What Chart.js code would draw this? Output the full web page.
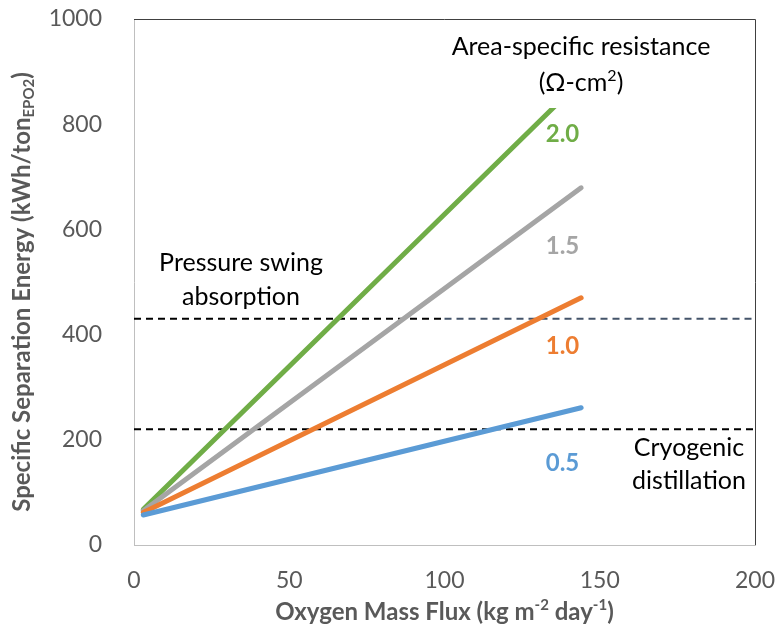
<!DOCTYPE html>
<html>
<head>
<meta charset="utf-8">
<script src="https://cdn.jsdelivr.net/npm/chart.js@4.4.1/dist/chart.umd.min.js"></script>
<style>
  html, body { margin: 0; padding: 0; background: #fff; }
  #wrap { width: 782px; height: 633px; }
</style>
</head>
<body>
<div id="wrap"><canvas id="sepChart" width="782" height="633"></canvas></div>
<script>
// oxygen mass flux (kg m-2 day-1) at the two ends of each line
const flux = [3, 144];

// specific separation energy (kWh/ton) per area-specific resistance
const asrLabels = ['0.5', '1.0', '1.5', '2.0'];
const energy05 = [57, 261];
const energy10 = [62, 470];
const energy15 = [65, 679];
const energy20 = [68, 883];

// reference technologies (horizontal dashed lines)
const psaLevel = 430;
const cryoLevel = 220;
const xRange = [0, 100, 200];

const xTicks = [0, 50, 100, 150, 200];
const yTicks = [0, 200, 400, 600, 800, 1000];

const FONT = 'Lato, "Open Sans", sans-serif';
const colors = ['#5B9BD5', '#ED7D31', '#A5A5A5', '#70AD47'];

function pts(xs, ys) {
  return xs.map((x, i) => ({ x: x, y: ys[i] }));
}

const seriesData = [energy05, energy10, energy15, energy20];

const lineSets = seriesData.map((ys, i) => ({
  label: asrLabels[i],
  data: pts(flux, ys),
  borderColor: colors[i],
  borderWidth: 5,
  borderCapStyle: 'round',
  pointRadius: 0,
  showLine: true,
  order: 1
}));

const dashSets = [
  { data: pts([xRange[0], xRange[1]], [psaLevel, psaLevel]), borderColor: '#000000' },
  { data: pts([xRange[1], xRange[2]], [psaLevel, psaLevel]), borderColor: '#44546A' },
  { data: pts([xRange[0], xRange[2]], [cryoLevel, cryoLevel]), borderColor: '#000000' }
].map(d => Object.assign(d, {
  borderWidth: 2,
  borderDash: [7, 5],
  pointRadius: 0,
  showLine: true,
  order: 2
}));

// draw text made of runs: [text, 'n' | 'sub' | 'sup']
function drawRuns(ctx, runs, cx, cy, size, weight, color) {
  const small = Math.round(size * 0.62);
  let total = 0;
  runs.forEach(r => {
    ctx.font = weight + ' ' + (r[1] === 'n' ? size : small) + 'px ' + FONT;
    total += ctx.measureText(r[0]).width;
  });
  let x = cx - total / 2;
  ctx.fillStyle = color;
  ctx.textBaseline = 'middle';
  ctx.textAlign = 'left';
  runs.forEach(r => {
    const s = r[1] === 'n' ? size : small;
    ctx.font = weight + ' ' + s + 'px ' + FONT;
    let dy = 0;
    if (r[1] === 'sub') dy = size * 0.3;
    if (r[1] === 'sup') dy = -size * 0.3;
    ctx.fillText(r[0], x, cy + dy);
    x += ctx.measureText(r[0]).width;
  });
}

const annotate = {
  id: 'annotate',
  afterDatasetsDraw(chart) {
    const ctx = chart.ctx;
    const a = chart.chartArea;
    const xs = chart.scales.x;
    const ys = chart.scales.y;
    ctx.save();

    // top and right frame
    ctx.strokeStyle = '#404040';
    ctx.lineWidth = 1;
    ctx.beginPath();
    ctx.moveTo(a.left, Math.round(a.top) + 0.5);
    ctx.lineTo(Math.round(a.right) + 0.5, Math.round(a.top) + 0.5);
    ctx.lineTo(Math.round(a.right) + 0.5, a.bottom);
    ctx.stroke();

    // legend title box (covers the top of the 2.0 line)
    ctx.fillStyle = '#ffffff';
    ctx.fillRect(425, a.top + 4, a.right - 430, 108 - a.top - 4);
    drawRuns(ctx, [['Area-specific resistance', 'n']], 581, 47, 25, 'normal', '#000');
    drawRuns(ctx, [['(\u03A9-cm', 'n'], ['2', 'sup'], [')', 'n']], 581, 83, 25, 'normal', '#000');

    // series value labels
    const labelX = xs.getPixelForValue(138);
    const labelY = [156, 377, 567, 780];
    asrLabels.forEach((t, i) => {
      drawRuns(ctx, [[t, 'n']], labelX, ys.getPixelForValue(labelY[i]), 24, 'bold', colors[i]);
    });

    // technology notes
    drawRuns(ctx, [['Pressure swing', 'n']], 241, 263, 25, 'normal', '#000');
    drawRuns(ctx, [['absorption', 'n']], 241, 297, 25, 'normal', '#000');
    drawRuns(ctx, [['Cryogenic', 'n']], 689, 448, 25, 'normal', '#000');
    drawRuns(ctx, [['distillation', 'n']], 689, 481, 25, 'normal', '#000');

    // axis titles
    drawRuns(ctx, [['Oxygen Mass Flux (kg m', 'n'], ['-2', 'sup'], [' day', 'n'], ['-1', 'sup'], [')', 'n']],
      (a.left + a.right) / 2, 612, 24, 'bold', '#595959');
    ctx.translate(22, (a.top + a.bottom) / 2 + 10);
    ctx.rotate(-Math.PI / 2);
    drawRuns(ctx, [['Specific Separation Energy (kWh/ton', 'n'], ['EPO2', 'sub'], [')', 'n']],
      0, 0, 24, 'bold', '#595959');
    ctx.restore();
  }
};

new Chart(document.getElementById('sepChart'), {
  type: 'scatter',
  data: { datasets: lineSets.concat(dashSets) },
  plugins: [annotate],
  options: {
    responsive: false,
    animation: false,
    layout: { padding: { top: 19, right: 27, left: 0, bottom: 0 } },
    plugins: { legend: { display: false }, tooltip: { enabled: false } },
    scales: {
      x: {
        type: 'linear',
        min: xTicks[0],
        max: xTicks[xTicks.length - 1],
        afterBuildTicks: s => { s.ticks = xTicks.map(v => ({ value: v })); },
        afterFit: s => { s.height = 88; s.paddingLeft = 0; s.paddingRight = 0; },
        grid: { display: false },
        border: { display: true, color: '#BFBFBF', width: 1 },
        ticks: { padding: 14, color: '#595959', font: { family: FONT, size: 23 }, callback: v => String(v) }
      },
      y: {
        type: 'linear',
        min: yTicks[0],
        max: yTicks[yTicks.length - 1],
        afterBuildTicks: s => { s.ticks = yTicks.map(v => ({ value: v })); },
        afterFit: s => { s.width = 134; s.paddingTop = 0; s.paddingBottom = 0; },
        grid: { display: false },
        border: { display: true, color: '#BFBFBF', width: 1 },
        ticks: { padding: 24, color: '#595959', font: { family: FONT, size: 23 }, callback: v => String(v) }
      }
    }
  }
});
</script>
</body>
</html>
